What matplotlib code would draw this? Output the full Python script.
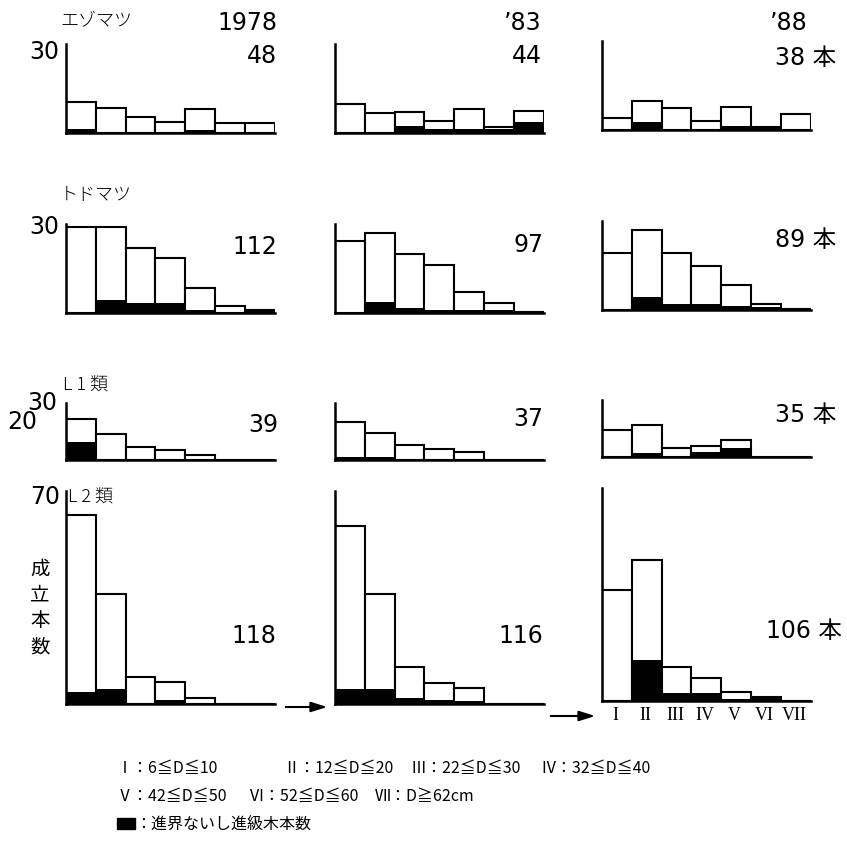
import matplotlib
matplotlib.use('Agg')
import matplotlib.pyplot as plt
import numpy as np
from matplotlib.patches import FancyArrowPatch, Rectangle

plt.rcParams['font.family'] = ['DejaVu Sans', 'Noto Sans CJK JP']

# ---- data ----
classes = ['I', 'II', 'III', 'IV', 'V', 'VI', 'VII']
years = ['1978', '’83', '’88']
species = ['エゾマツ', 'トドマツ', 'L 1 類', 'L 2 類']
totals = [['48', '44', '38 本'],
          ['112', '97', '89 本'],
          ['39', '37', '35 本'],
          ['118', '116', '106 本']]

ezo_all = [[11.5, 9.2, 5.9, 4.1, 8.9, 3.7, 3.7],
           [10.7, 7.4, 7.7, 4.4, 8.9, 2.2, 8.2],
           [4.4, 10.7, 8.2, 3.3, 8.5, 1.1, 5.9]]
ezo_up = [[1.6, 0, 0.5, 0, 1.1, 0, 0],
          [0, 0, 2.5, 1.6, 1.6, 1.6, 4.1],
          [0, 3.0, 0, 0, 1.5, 1.1, 0]]

todo_all = [[30, 30, 22.5, 19, 8.7, 2.4, 1.0],
            [25, 28, 20.5, 16.7, 7.3, 3.5, 0.3],
            [20, 28, 20, 15.3, 8.7, 2.0, 0.5]]
todo_up = [[0, 4.5, 3.6, 3.6, 1.2, 0.5, 1.0],
           [0, 3.8, 1.7, 1.0, 1.0, 1.0, 0.3],
           [0, 4.5, 2.0, 2.0, 1.5, 1.0, 0.5]]

l1_all = [[21.6, 13.7, 6.8, 5.3, 2.6, 0, 0],
          [20, 14, 8, 6, 4, 0, 0],
          [14, 17, 5, 6, 9, 0, 0]]
l1_up = [[9.5, 0.5, 0.5, 0, 0, 0, 0],
         [1.5, 1.5, 0, 0, 0, 0, 0],
         [0, 2.0, 0, 2.5, 4.5, 0, 0]]

l2_all = [[64, 37, 9, 7.4, 2, 0, 0],
          [60, 37, 12.5, 7, 5.4, 0, 0],
          [37.5, 47.6, 11.5, 7.8, 3, 1.4, 0]]
l2_up = [[4, 5, 0.5, 1.3, 0.5, 0, 0],
         [5, 5, 2, 1.5, 1, 0, 0],
         [0, 13.9, 2.7, 2.7, 0.6, 1.4, 0]]

all_counts = [ezo_all, todo_all, l1_all, l2_all]
up_counts = [ezo_up, todo_up, l1_up, l2_up]
ytick_vals = [[30], [30], [20, 30], [70]]

legend_line1 = [('Ⅰ：6≦D≦10', 117), ('Ⅱ：12≦D≦20', 283),
                ('Ⅲ：22≦D≦30', 410), ('Ⅳ：32≦D≦40', 540)]
legend_line2 = [('Ⅴ：42≦D≦50', 117), ('Ⅵ：52≦D≦60', 248),
                ('Ⅶ：D≧62cm', 375)]
legend_note = '：進界ないし進級木本数'

# ---- layout (pixels) ----
W, H = 847, 860
col_left = [66, 335, 602]
bin_px = 29.8
row_ppu = [2.7, 2.87, 1.9, 2.96]
row_top = [33, 31, 30, 72]
row_base = [133, 313, 460, 704]

fig = plt.figure(figsize=(W / 100, H / 100), dpi=100)


def fx(x):
    return x / W


def fy(y):
    return 1 - y / H


for r in range(4):
    for c in range(3):
        base = row_base[r] - (3 if c == 2 else 0)
        h_px = row_top[r] * row_ppu[r]
        ax = fig.add_axes([fx(col_left[c]), fy(base), 7 * bin_px / W, h_px / H])
        x = np.arange(7)
        ax.bar(x, all_counts[r][c], width=1, align='edge', facecolor='white',
               edgecolor='black', linewidth=1.5, zorder=2)
        ax.bar(x, up_counts[r][c], width=1, align='edge', color='black',
               linewidth=0, zorder=3)
        ax.set_xlim(0, 7)
        ax.set_ylim(0, row_top[r])
        for s in ['top', 'right']:
            ax.spines[s].set_visible(False)
        ax.spines['left'].set_linewidth(1.8)
        ax.spines['bottom'].set_linewidth(1.8)
        ax.set_yticks([])
        if r == 3 and c == 2:
            ax.set_xticks(x + 0.45)
            ax.set_xticklabels(classes, family='Liberation Serif', fontsize=13)
            ax.tick_params(axis='x', length=0, pad=4)
        else:
            ax.set_xticks([])
        if c == 0:
            trans = ax.get_yaxis_transform()
            vals = ytick_vals[r]
            if len(vals) == 2:
                ax.text(-0.04, vals[1], str(vals[1]), transform=trans, ha='right',
                        va='center', fontsize=17)
                ax.text(-0.14, vals[0], str(vals[0]), transform=trans, ha='right',
                        va='center', fontsize=17)
            else:
                ax.text(-0.03, vals[0], str(vals[0]), transform=trans, ha='right',
                        va='center', fontsize=17)
        ax.patch.set_alpha(0)

# year headings and totals
for c, yr in enumerate(years):
    right = [277, 542, 808][c]
    fig.text(fx(right), fy(23), yr, ha='right', va='center', fontsize=17)

tot_y = [[56, 56, 58], [247, 245, 240], [425, 419, 415], [636, 636, 631]]
tot_right = [[277, 542, 836], [277, 543, 836], [278, 543, 836], [276, 543, 842]]
for r in range(4):
    for c in range(3):
        fig.text(fx(tot_right[r][c]), fy(tot_y[r][c]), totals[r][c],
                 ha='right', va='center', fontsize=17)

# species labels
sp_pos = [(60, 20), (60, 195), (63, 386), (68, 498)]
for name, (px, py) in zip(species, sp_pos):
    fig.text(fx(px), fy(py), name, ha='left', va='center', fontsize=13,
             family=['Noto Sans CJK JP', 'DejaVu Sans'], weight='light')

# y axis title
fig.text(fx(40), fy(608), '成\n立\n本\n数', ha='center', va='center',
         fontsize=14, linespacing=1.3, family=['Noto Sans CJK JP'])

# arrows
for (x0, x1, yy) in [(283, 330, 707), (548, 598, 716)]:
    fig.patches.append(FancyArrowPatch((fx(x0), fy(yy)), (fx(x1), fy(yy)),
                                       transform=fig.transFigure,
                                       arrowstyle='-|>,head_length=0.8,head_width=0.25',
                                       mutation_scale=12,
                                       color='black', linewidth=1.5))

# legend text
for txt, px in legend_line1:
    fig.text(fx(px), fy(768), txt, ha='left', va='center', fontsize=11.5,
             family=['Noto Sans CJK JP', 'DejaVu Sans'])
for txt, px in legend_line2:
    fig.text(fx(px), fy(796), txt, ha='left', va='center', fontsize=11.5,
             family=['Noto Sans CJK JP', 'DejaVu Sans'])
fig.patches.append(Rectangle((fx(117), fy(829)), 18 / W, 11 / H,
                             transform=fig.transFigure, color='black'))
fig.text(fx(135), fy(824), legend_note, ha='left', va='center', fontsize=11.5,
         family=['Noto Sans CJK JP', 'DejaVu Sans'])

fig.savefig('out.png', dpi=100)
